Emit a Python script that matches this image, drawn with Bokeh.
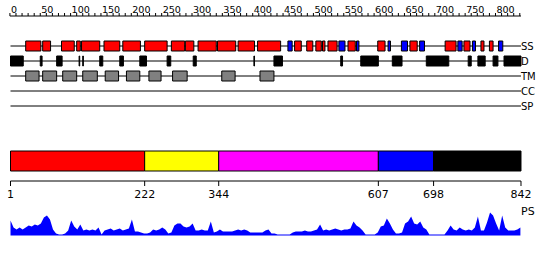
from bokeh.plotting import figure
from bokeh.models import Range1d
from bokeh.embed import file_html
from bokeh.resources import INLINE
from bokeh.core.properties import value

SEQ_LEN = 842

# Secondary structure: helices (red) and strands (blue), residue ranges
helix_start = [26, 54, 85, 110, 118, 155, 186, 222, 266, 289, 310, 342, 376, 408, 469, 489, 504, 515, 524, 557, 606, 659, 717, 748, 776, 790]
helix_end = [51, 67, 106, 116, 148, 181, 215, 259, 288, 303, 340, 372, 403, 446, 480, 499, 513, 519, 539, 569, 618, 671, 735, 758, 781, 796]
strand_start = [458, 542, 571, 623, 645, 675, 738, 762, 805]
strand_end = [465, 552, 575, 627, 655, 683, 745, 767, 812]

# Disordered regions
dis_start = [1, 50, 77, 114, 120, 148, 181, 214, 259, 302, 402, 435, 545, 578, 630, 686, 755, 771, 796, 814]
dis_end = [22, 53, 86, 115, 121, 153, 187, 225, 265, 307, 403, 449, 548, 607, 646, 723, 760, 783, 804, 842]

# Transmembrane regions
tm_start = [26, 54, 87, 120, 157, 192, 229, 268, 349, 412]
tm_end = [48, 77, 110, 144, 179, 214, 249, 292, 371, 435]

track_labels = ["SS", "D", "TM", "CC", "SP"]

# Domains
domain_bounds = [1, 222, 344, 607, 698, 842]
domain_colors = ["#ff0000", "#ffff00", "#ff00ff", "#0000ff", "#000000"]

# Ruler
ruler_labels = list(range(0, 801, 50))
ruler_minor = list(range(0, 841, 10))

# PS profile (residue, score)
ps_pos = list(range(1, 842, 5))
ps_val = [15, 8, 6, 8, 6, 8, 10, 9, 11, 10, 12, 18, 20, 16, 6, 2, 1, 1, 2, 5,
          15, 9, 6, 11, 5, 6, 5, 6, 5, 8, 1, 5, 6, 7, 5, 6, 7, 5, 6, 7,
          16, 4, 4, 3, 2, 2, 3, 6, 5, 6, 8, 6, 2, 3, 10, 12, 12, 9, 8, 9,
          12, 5, 5, 6, 5, 5, 14, 3, 4, 6, 4, 4, 4, 4, 5, 6, 5, 6, 5, 3,
          3, 3, 3, 3, 5, 6, 2, 2, 1, 1, 1, 1, 1, 3, 4, 4, 4, 5, 4, 4,
          5, 6, 11, 5, 6, 5, 6, 7, 6, 5, 6, 6, 7, 14, 10, 8, 5, 1, 1, 1,
          1, 3, 9, 10, 17, 12, 6, 2, 2, 3, 12, 14, 19, 12, 11, 14, 8, 6, 1, 1,
          1, 1, 1, 1, 5, 10, 6, 5, 8, 6, 5, 6, 5, 8, 19, 5, 5, 13, 23, 20,
          12, 5, 20, 8, 5, 5, 5, 6, 8]

FONT = value("DejaVu Sans")

p = figure(width=550, height=260, output_backend="svg", toolbar_location=None,
           x_range=Range1d(-15.5, 890.6), y_range=Range1d(260, 0),
           x_axis_type=None, y_axis_type=None, min_border=0,
           outline_line_color=None, background_fill_color="white")
p.grid.visible = False

# ---- ruler ----
RY = 15.5
p.segment(x0=[0], x1=[SEQ_LEN], y0=[RY], y1=[RY], line_color="black", line_width=1)
p.segment(x0=ruler_minor, x1=ruler_minor, y0=[RY] * len(ruler_minor),
          y1=[RY - 3] * len(ruler_minor), line_color="black", line_width=1)
p.text(x=ruler_labels, y=[RY - 3] * len(ruler_labels), text=[str(v) for v in ruler_labels],
       text_font=FONT, text_font_size="9.5px", text_align="left", text_baseline="bottom",
       text_color="black", x_offset=1)

# ---- tracks ----
track_y = [45.5, 60.5, 75.5, 90.5, 105.5]
H = 5
p.segment(x0=[1] * 5, x1=[SEQ_LEN] * 5, y0=track_y, y1=track_y, line_color="black", line_width=1)
p.text(x=[SEQ_LEN] * 5, y=track_y, text=track_labels, text_font=FONT,
       text_font_size="10px", text_align="left", text_baseline="middle", text_color="black")

ys = track_y[0]
p.quad(left=helix_start, right=helix_end, bottom=[ys + H] * len(helix_start),
       top=[ys - H] * len(helix_start), fill_color="#ff0000", line_color="black", line_width=1)
p.quad(left=strand_start, right=strand_end, bottom=[ys + H] * len(strand_start),
       top=[ys - H] * len(strand_start), fill_color="#0000ff", line_color="black", line_width=1)
yd = track_y[1]
p.quad(left=dis_start, right=dis_end, bottom=[yd + H] * len(dis_start),
       top=[yd - H] * len(dis_start), fill_color="black", line_color="black", line_width=1)
yt = track_y[2]
p.quad(left=tm_start, right=tm_end, bottom=[yt + H] * len(tm_start),
       top=[yt - H] * len(tm_start), fill_color="#808080", line_color="black", line_width=1)

# ---- domains ----
p.quad(left=domain_bounds[:-1], right=domain_bounds[1:], top=[150.5] * 5, bottom=[170.5] * 5,
       fill_color=domain_colors, line_color="black", line_width=1)

AY = 180.5
p.segment(x0=[1], x1=[SEQ_LEN], y0=[AY], y1=[AY], line_color="black", line_width=1)
p.segment(x0=domain_bounds, x1=domain_bounds, y0=[AY] * 6, y1=[AY + 5] * 6,
          line_color="black", line_width=1)
p.text(x=domain_bounds, y=[AY + 9] * 6, text=[str(b) for b in domain_bounds], text_font=FONT,
       text_font_size="11px", text_align="center", text_baseline="top", text_color="black")
p.text(x=[SEQ_LEN], y=[211], text=["PS"], text_font=FONT, text_font_size="11px",
       text_align="left", text_baseline="middle", text_color="black")

# ---- PS profile ----
BASE = 235
p.varea(x=ps_pos, y1=[BASE] * len(ps_pos), y2=[BASE - v for v in ps_val],
        fill_color="#0000ff")

open("out.html", "w").write(file_html(p, INLINE))
